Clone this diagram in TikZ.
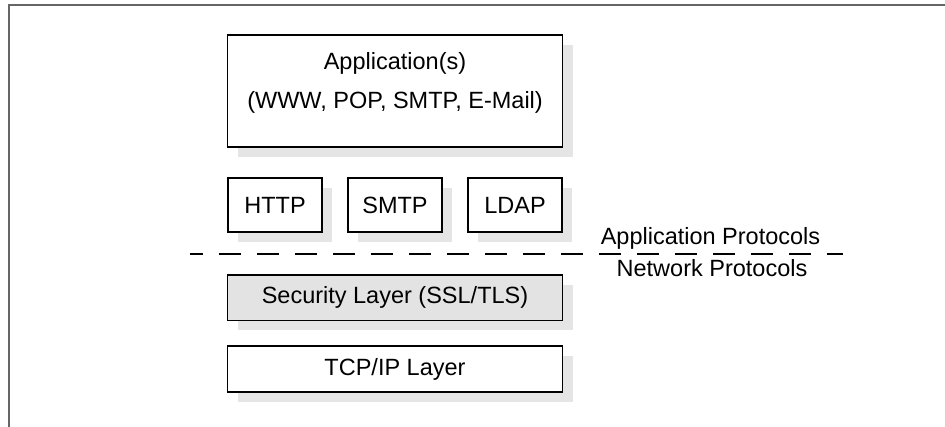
\documentclass[tikz,border=0pt]{standalone}
\usepackage{fontspec}
\setmainfont{Liberation Sans}
\usepackage{tikz}
\usetikzlibrary{positioning, shadows}
\tikzstyle{layer} = [rectangle, draw=black, line width=1.8pt, fill=white, text centered, drop shadow={shadow xshift=10pt, shadow yshift=-10pt, fill=black!10, opacity=1}]
\tikzstyle{proto} = [layer, minimum width=94.2pt, minimum height=53.5pt]
\tikzstyle{wide} = [layer, minimum width=335pt, minimum height=45.5pt]
\tikzstyle{divider} = [line width=2pt, dash pattern=on 21.5pt off 16.5pt, dash phase=8.8pt]
\tikzstyle{frame} = [line width=2pt, draw=black!60]
\tikzstyle{every node}=[font=\fontsize{23.5pt}{39pt}\selectfont]

\begin{document}
\begin{tikzpicture}[x=1pt, y=-1pt, inner sep=0pt]
		\useasboundingbox (0,0) rectangle (945,427);
		\draw [frame] (945,5) -- (9,5) -- (9,427);
		% application block
		\node (app) [layer, minimum width=335pt, minimum height=112pt, label={[name=apptext, align=center, yshift=8pt]center:{Application(s)\\(WWW, POP, SMTP, E-Mail)}}] at (395,91) {};
		% protocols
		\node (http) [proto] at (275,205) {HTTP};
		\node (smtp) [proto, right=24pt of http] {SMTP};
		\node (ldap) [proto, right=24pt of smtp] {LDAP};
		% layer split
		\coordinate (dl) at (190,254);
		\coordinate (dr) at (843,254);
		\draw [divider] (dl) -- (dr);
		\node (apl) [anchor=base] at (710.5,245) {Application Protocols};
		\node (net) [anchor=base] at (712,276.7) {Network Protocols};
		% network layers
		\node (ssl) [wide, fill=black!11] at (395,297.7) {Security Layer (SSL/TLS)};
		\node (tcp) [wide, below=24pt of ssl] {TCP/IP Layer};
	\end{tikzpicture}
\end{document}
